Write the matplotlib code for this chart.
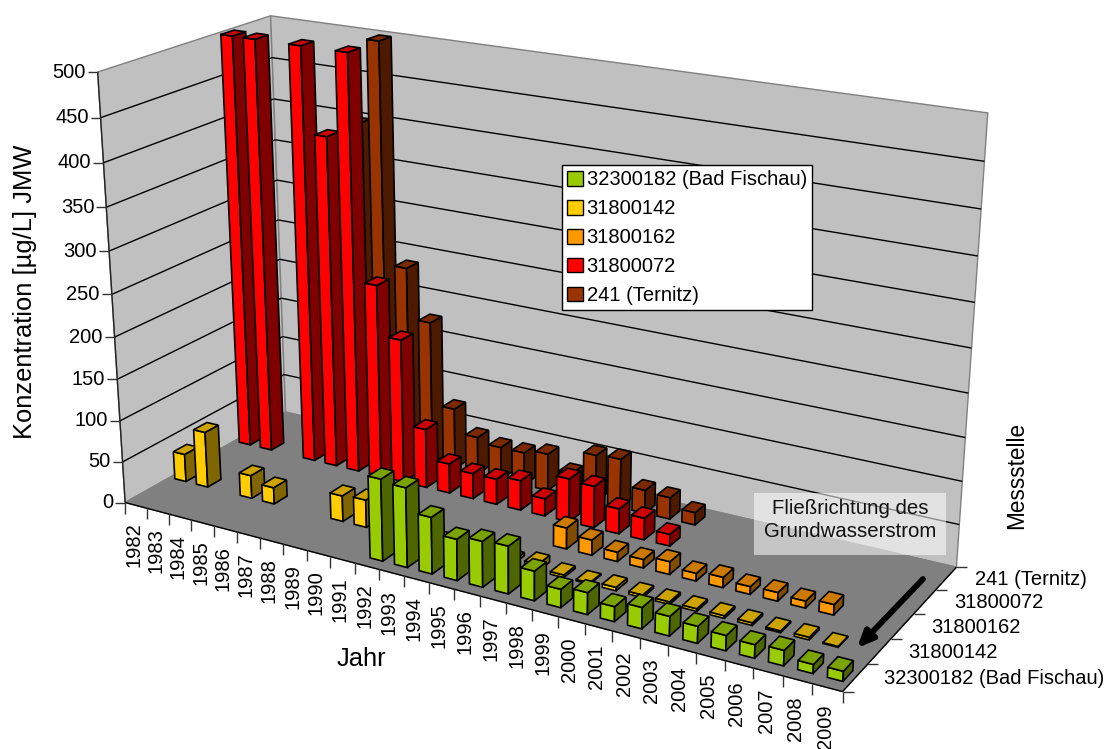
import numpy as np
import matplotlib
matplotlib.use("Agg")
import matplotlib.pyplot as plt
from matplotlib.patches import Polygon, Patch, Rectangle

plt.rcParams["font.family"] = ["Liberation Sans", "DejaVu Sans"]

# Data, one value per year, None where a station has no measurement
years = list(range(1982, 2010))
stations = ["32300182 (Bad Fischau)", "31800142", "31800162", "31800072", "241 (Ternitz)"]
bad_fischau = [None] * 10 + [96, 93, 66, 48, 53, 55, 34, 21, 25, 17, 24, 22, 19, 17, 15, 17, 10, 11]
s31800142 = [34, 68, None, 28, 20, None, None, 31, 33, 20, 5, 5, 4, 4, 4, 8,
             3, 1.5, 4, 3, 3, 3, 3, 3, 2, 3, 1, None]
s31800162 = [None] * 15 + [25, 18, 11, 10, 15, 9, 12, 9, 10, 8, 12, None, None]
s31800072 = [500, 500, None, 500, 400, 500, 235, 175, 72, 36, 31, 31, 36, 21, 52, 50, 30, 26, 14] + [None] * 9
ternitz = [None] * 4 + [400, 500, 237, 176, 75, 46, 40, 40, 45, 28, 57, 59, 28, 26, 15] + [None] * 9
series = [bad_fischau, s31800142, s31800162, s31800072, ternitz]

face_colors = ["#99CC00", "#FFCC00", "#FF9900", "#FF0000", "#993300"]
side_colors = ["#4D6600", "#806600", "#804D00", "#800000", "#4D1A00"]
top_colors = ["#7AA300", "#CCA300", "#CC7A00", "#CC0000", "#7A2900"]

z_ticks = list(range(0, 501, 50))
nx = len(years)
nd = len(stations)
zmax = 500
bar_w = 0.52
bar_d = 0.40

# Camera fitted to the corners of the chart box (x slot, depth, value -> pixel)
corners = [
    ((0, 0, 0), (125.7, 502.7)),
    ((nx, 0, 0), (842.3, 691.7)),
    ((nx, nd, 0), (956.7, 567.0)),
    ((0, nd, 0), (285.0, 412.0)),
    ((0, 0, zmax), (97.3, 71.7)),
    ((0, nd, zmax), (271.0, 16.0)),
    ((nx, nd, zmax), (987.7, 113.0)),
]
A, rhs = [], []
for (X, Y, Z), (u, v) in corners:
    A.append([X, Y, Z, 1, 0, 0, 0, 0, -u * X, -u * Y, -u * Z])
    A.append([0, 0, 0, 0, X, Y, Z, 1, -v * X, -v * Y, -v * Z])
    rhs += [u, v]
P = np.append(np.linalg.lstsq(np.array(A, float), np.array(rhs, float), rcond=None)[0], 1).reshape(3, 4)


def proj(x, y, z):
    h = P @ np.array([x, y, z, 1.0])
    return h[0] / h[2], h[1] / h[2]


fig = plt.figure(figsize=(11.09, 7.49), dpi=100)
ax = fig.add_axes([0, 0, 1, 1])
ax.set_xlim(0, 1109)
ax.set_ylim(749, 0)
ax.axis("off")


def quad(pts, color, edge, lw=1.0, z=1):
    ax.add_patch(Polygon([proj(*p) for p in pts], closed=True, facecolor=color, edgecolor=edge,
                         linewidth=lw, joinstyle="miter", zorder=z))


def seg(a, b, color="black", lw=1.0, z=2):
    ax.plot([a[0], b[0]], [a[1], b[1]], color=color, lw=lw, zorder=z, solid_capstyle="butt")


# walls and floor
quad([(0, 0, 0), (0, nd, 0), (0, nd, zmax), (0, 0, zmax)], "#C0C0C0", "#808080")
quad([(0, nd, 0), (nx, nd, 0), (nx, nd, zmax), (0, nd, zmax)], "#C0C0C0", "#808080")
quad([(0, 0, 0), (nx, 0, 0), (nx, nd, 0), (0, nd, 0)], "#808080", "#808080")

# gridlines
for t in z_ticks[1:-1]:
    seg(proj(0, 0, t), proj(0, nd, t))
    seg(proj(0, nd, t), proj(nx, nd, t))

# axis lines, ticks, tick labels
seg(proj(0, 0, 0), proj(0, 0, zmax), "#222222", z=3)
seg(proj(0, 0, 0), proj(nx, 0, 0), z=3)
seg(proj(nx, 0, 0), proj(nx, nd, 0), z=3)

for t in z_ticks:
    px, py = proj(0, 0, t)
    seg((px - 10, py), (px, py), "#333333", z=3)
    ax.text(px - 12, py, str(t), ha="right", va="center", fontsize=14.5, color="black")

for i in range(nx + 1):
    px, py = proj(i, 0, 0)
    seg((px, py), (px, py + 11), "#333333", z=3)
for i, yr in enumerate(years):
    px, py = proj(i + 0.5, 0, 0)
    ax.text(px - 2, py + 17, str(yr), rotation=90, ha="center", va="top", fontsize=14.5)

for d in range(nd + 1):
    px, py = proj(nx, d, 0)
    seg((px, py), (px + 11, py), "#333333", z=3)
for d, name in enumerate(stations):
    px, py = proj(nx, d + 0.5, 0)
    ax.text(px + 29, py + 1, name, ha="left", va="center", fontsize=14.5)

# bars, back row first and left to right, as the right sides show
for d in range(nd - 1, -1, -1):
    vals = series[d]
    for i in range(nx):
        v = vals[i]
        if v is None:
            continue
        v = min(v, zmax)
        x0, x1 = i + 0.5 - bar_w / 2, i + 0.5 + bar_w / 2
        y0, y1 = d + 0.5 - bar_d / 2, d + 0.5 + bar_d / 2
        quad([(x0, y0, 0), (x1, y0, 0), (x1, y0, v), (x0, y0, v)], face_colors[d], "black", 1.2, 4)
        quad([(x1, y0, 0), (x1, y1, 0), (x1, y1, v), (x1, y0, v)], side_colors[d], "black", 1.2, 4)
        quad([(x0, y0, v), (x1, y0, v), (x1, y1, v), (x0, y1, v)], top_colors[d], "black", 1.2, 4)

# axis titles
ax.text(25, 292, "Konzentration [µg/L] JMW", rotation=90, ha="center", va="center", fontsize=18.4)
ax.text(361, 659, "Jahr", ha="center", va="center", fontsize=18.4)
ax.text(1017, 475, "Messstelle", rotation=90, ha="center", va="center", fontsize=16.3)

# flow direction note
ax.add_patch(Rectangle((754, 493), 192, 62, facecolor="white", alpha=0.55, edgecolor="none", zorder=5))
ax.text(850, 520, "Fließrichtung des\nGrundwasserstrom", ha="center", va="center", fontsize=14.7,
        color="#111111", linespacing=1.27, zorder=6)
ax.annotate("", xy=(857, 648), xytext=(923, 579), zorder=6,
            arrowprops=dict(arrowstyle="-|>,head_width=0.42,head_length=0.95", color="black", lw=4.2,
                            shrinkA=0, shrinkB=0))

# legend
handles = [Patch(facecolor=face_colors[i], edgecolor="black", linewidth=1) for i in range(nd)]
leg = ax.legend(handles, stations, loc="upper left", bbox_to_anchor=(562 / 1109, 1 - 165 / 749),
                bbox_transform=fig.transFigure, fontsize=14.5, frameon=True, fancybox=False,
                edgecolor="black", facecolor="white", framealpha=1, borderaxespad=0,
                handlelength=0.75, handleheight=0.75, handletextpad=0.2, labelspacing=0.49,
                borderpad=0.27)
leg.set_zorder(7)
leg.get_frame().set_linewidth(1)

fig.savefig("out.png", dpi=100)
